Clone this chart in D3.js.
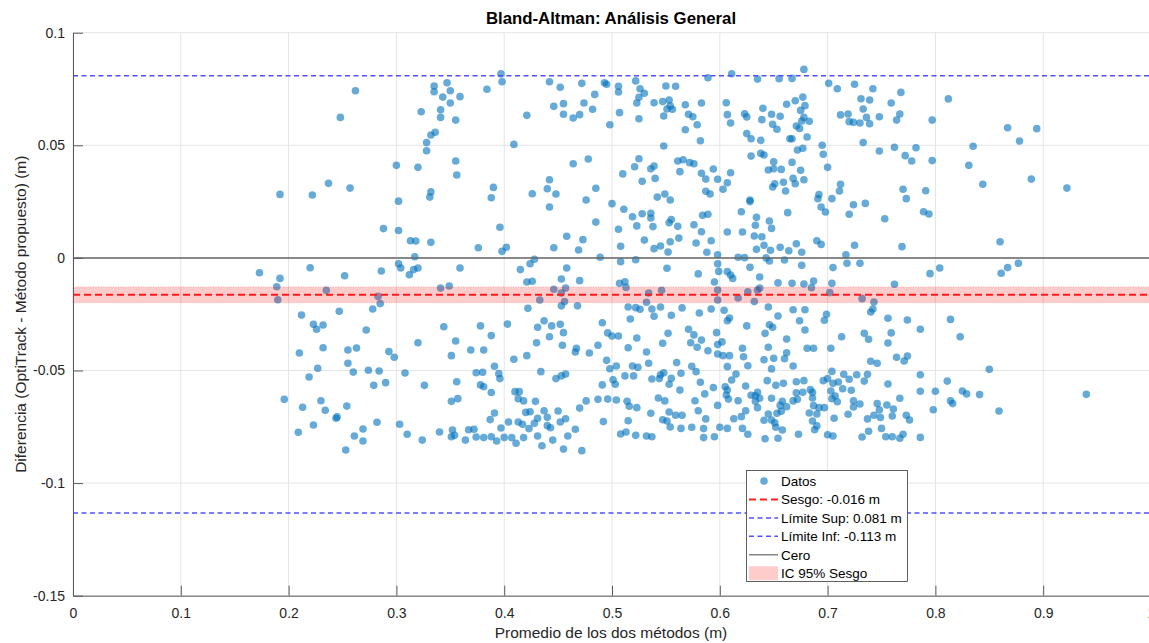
<!DOCTYPE html>
<html>
<head>
<meta charset="utf-8">
<script src="https://cdn.jsdelivr.net/npm/d3@7"></script>
<style>
  html, body { margin: 0; padding: 0; background: #fff; overflow: hidden; }
  svg { display: block; font-family: "Liberation Sans", Arial, Helvetica, sans-serif; }
</style>
</head>
<body>
<svg id="chart" width="1149" height="643"></svg>
<script>
// Ejes
const xTicks = [0, 0.1, 0.2, 0.3, 0.4, 0.5, 0.6, 0.7, 0.8, 0.9, 1];
const yTicks = [-0.15, -0.1, -0.05, 0, 0.05, 0.1];

// Estadísticos de Bland-Altman
const sesgo = -0.0164;
const limiteSup = 0.0809;
const limiteInf = -0.1133;
const icSesgo = [-0.0199, -0.0129];

// Mediciones: [promedio de ambos métodos, diferencia OptiTrack - propuesto] (m)
const datos = [
[0.262,0.0742],[0.248,0.0624],[0.335,0.0763],[0.347,0.0778],[0.335,0.0738],[0.350,0.0742],[0.343,0.0714],[0.359,0.0716],
[0.350,0.0688],[0.323,0.0649],[0.341,0.0658],[0.341,0.0624],[0.355,0.0612],[0.336,0.0558],[0.332,0.0546],[0.328,0.0512],
[0.328,0.0476],[0.355,0.0430],[0.356,0.0368],[0.300,0.0411],[0.320,0.0402],[0.237,0.0331],[0.257,0.0310],[0.192,0.0282],
[0.222,0.0279],[0.332,0.0293],[0.331,0.0270],[0.302,0.0252],
[0.288,0.0130],[0.302,0.0122],[0.313,0.0076],[0.318,0.0075],[0.332,0.0069],[0.376,0.0045],[0.317,0.0005],[0.173,-0.0066],
[0.220,-0.0044],[0.192,-0.0091],[0.189,-0.0128],[0.190,-0.0186],[0.235,-0.0144],[0.252,-0.0079],[0.286,-0.0058],[0.302,-0.0026],
[0.304,-0.0045],[0.312,-0.0075],[0.316,-0.0052],[0.320,-0.0045],[0.359,-0.0045],[0.283,-0.0171],[0.285,-0.0203],[0.278,-0.0227],
[0.341,-0.0134],[0.349,-0.0125],[0.247,-0.0237],[0.212,-0.0254],[0.223,-0.0295],[0.226,-0.0317],[0.232,-0.0298],[0.272,-0.0320],
[0.344,-0.0306],[0.378,-0.0302],
[0.210,-0.0422],[0.232,-0.0399],[0.255,-0.0409],[0.263,-0.0400],[0.255,-0.0468],[0.227,-0.0490],[0.219,-0.0529],[0.260,-0.0507],
[0.274,-0.0499],[0.284,-0.0502],[0.293,-0.0416],[0.298,-0.0441],[0.320,-0.0377],[0.355,-0.0369],[0.351,-0.0434],[0.369,-0.0409],
[0.308,-0.0511],[0.279,-0.0566],[0.290,-0.0554],[0.326,-0.0566],[0.356,-0.0550],[0.374,-0.0510],[0.378,-0.0564],[0.196,-0.0628],
[0.213,-0.0663],[0.230,-0.0634],[0.234,-0.0677],[0.254,-0.0658],[0.244,-0.0712],[0.245,-0.0706],[0.223,-0.0742],[0.209,-0.0774],
[0.269,-0.0760],[0.282,-0.0730],[0.261,-0.0791],[0.269,-0.0813],[0.253,-0.0853],[0.303,-0.0739],[0.310,-0.0783],[0.324,-0.0809],
[0.340,-0.0773],[0.352,-0.0764],[0.351,-0.0794],[0.354,-0.0788],[0.351,-0.0637],[0.357,-0.0625],[0.364,-0.0809],[0.367,-0.0763],
[0.372,-0.0761],[0.374,-0.0795],
[0.384,0.0749],[0.397,0.0817],[0.398,0.0782],[0.421,0.0633],[0.409,0.0504],[0.442,0.0782],[0.452,0.0758],[0.472,0.0775],
[0.493,0.0778],[0.495,0.0771],[0.506,0.0762],[0.506,0.0737],[0.522,0.0786],[0.526,0.0751],[0.530,0.0731],[0.525,0.0713],
[0.523,0.0688],[0.550,0.0763],[0.559,0.0762],[0.589,0.0800],[0.611,0.0818],[0.635,0.0794],[0.655,0.0796],[0.484,0.0726],
[0.474,0.0688],[0.482,0.0660],[0.455,0.0685],[0.446,0.0673],[0.455,0.0638],[0.464,0.0621],[0.470,0.0636],[0.498,0.0591],
[0.507,0.0645],[0.525,0.0618],[0.539,0.0689],[0.547,0.0694],[0.553,0.0701],[0.554,0.0675],[0.551,0.0661],[0.556,0.0660],
[0.548,0.0630],[0.568,0.0680],[0.583,0.0688],[0.571,0.0638],[0.575,0.0627],[0.579,0.0591],[0.568,0.0569],[0.582,0.0520],
[0.606,0.0689],[0.607,0.0636],[0.610,0.0599],[0.623,0.0640],[0.625,0.0626],[0.640,0.0664],[0.639,0.0614],[0.648,0.0638],
[0.649,0.0593],[0.653,0.0571],[0.656,0.0629],[0.662,0.0682],[0.625,0.0552],[0.629,0.0529],[0.638,0.0522],[0.665,0.0529],
[0.629,0.0452],[0.638,0.0464],[0.641,0.0457],[0.650,0.0427],[0.645,0.0390],[0.650,0.0396],[0.657,0.0393],[0.651,0.0329],
[0.649,0.0315],[0.659,0.0336],[0.661,0.0297],[0.628,0.0257],[0.548,0.0497],[0.525,0.0440],[0.521,0.0405],[0.536,0.0396],
[0.539,0.0408],[0.540,0.0353],[0.528,0.0340],[0.510,0.0373],[0.561,0.0430],[0.566,0.0436],[0.572,0.0423],[0.576,0.0418],
[0.563,0.0383],[0.583,0.0376],[0.594,0.0395],[0.587,0.0350],[0.598,0.0349],[0.610,0.0378],[0.607,0.0334],[0.603,0.0305],
[0.587,0.0296],[0.591,0.0284],[0.549,0.0284],[0.542,0.0270],[0.554,0.0257],[0.464,0.0418],[0.478,0.0439],[0.442,0.0347],
[0.440,0.0307],[0.448,0.0284],[0.426,0.0285],[0.485,0.0309],[0.390,0.0313],[0.388,0.0267],[0.476,0.0257],
[0.678,0.0837],[0.667,0.0797],[0.701,0.0775],[0.709,0.0751],[0.725,0.0771],[0.742,0.0751],[0.768,0.0735],[0.812,0.0706],
[0.670,0.0698],[0.677,0.0714],[0.679,0.0676],[0.675,0.0655],[0.731,0.0707],[0.739,0.0701],[0.759,0.0688],[0.733,0.0661],
[0.712,0.0635],[0.719,0.0639],[0.767,0.0639],[0.736,0.0624],[0.748,0.0627],[0.720,0.0605],[0.724,0.0602],[0.730,0.0599],
[0.739,0.0596],[0.764,0.0612],[0.797,0.0612],[0.678,0.0624],[0.676,0.0608],[0.683,0.0607],[0.671,0.0586],[0.674,0.0575],
[0.681,0.0537],[0.667,0.0529],[0.867,0.0578],[0.894,0.0574],[0.878,0.0519],[0.733,0.0512],[0.695,0.0500],[0.672,0.0479],
[0.677,0.0487],[0.696,0.0460],[0.748,0.0475],[0.762,0.0491],[0.782,0.0489],[0.772,0.0454],[0.778,0.0430],[0.797,0.0432],
[0.835,0.0496],[0.831,0.0411],[0.844,0.0327],[0.889,0.0350],[0.922,0.0310],[0.667,0.0424],[0.700,0.0402],[0.675,0.0389],
[0.668,0.0353],[0.678,0.0347],[0.670,0.0329],[0.712,0.0327],[0.711,0.0297],[0.692,0.0281],[0.691,0.0263],[0.704,0.0263],
[0.770,0.0305],[0.791,0.0298],[0.773,0.0263],
[0.442,0.0226],[0.500,0.0241],[0.511,0.0216],[0.519,0.0183],[0.528,0.0196],[0.536,0.0198],[0.536,0.0177],[0.555,0.0170],
[0.553,0.0156],[0.576,0.0147],[0.584,0.0189],[0.589,0.0194],[0.561,0.0140],[0.538,0.0139],[0.523,0.0142],[0.506,0.0127],
[0.485,0.0159],[0.396,0.0136],[0.458,0.0096],[0.473,0.0081],[0.446,0.0045],[0.469,0.0035],[0.402,0.0047],[0.398,0.0029],
[0.508,0.0052],[0.530,0.0079],[0.539,0.0041],[0.545,0.0053],[0.554,0.0072],[0.552,0.0026],[0.562,0.0088],[0.578,0.0066],
[0.583,0.0116],[0.592,0.0076],[0.588,0.0025],[0.598,0.0014],[0.607,0.0115],[0.620,0.0205],[0.621,0.0115],[0.628,0.0250],
[0.634,0.0180],[0.633,0.0145],[0.646,0.0164],[0.648,0.0131],[0.632,0.0097],[0.639,0.0094],[0.641,0.0056],[0.634,0.0038],
[0.647,0.0034],[0.656,0.0047],[0.663,0.0201],[0.664,0.0032],[0.617,0.0003],[0.623,0.0001],[0.643,0.0000],[0.646,-0.0014],
[0.660,-0.0009],[0.522,-0.0008],[0.508,-0.0017],[0.489,0.0003],[0.428,-0.0006],[0.424,-0.0026],[0.415,-0.0052],[0.458,-0.0045],
[0.598,-0.0026],[0.599,-0.0060],[0.607,-0.0061],[0.610,-0.0076],[0.612,-0.0091],[0.628,-0.0042],[0.637,-0.0085],[0.551,-0.0046],
[0.580,-0.0071],[0.421,-0.0107],[0.426,-0.0104],[0.453,-0.0094],[0.470,-0.0101],[0.507,-0.0113],[0.512,-0.0106],[0.513,-0.0131],
[0.595,-0.0107],[0.654,-0.0111],[0.446,-0.0139],[0.457,-0.0134],[0.453,-0.0156],[0.433,-0.0187],[0.456,-0.0194],[0.453,-0.0213],
[0.468,-0.0213],[0.422,-0.0224],[0.534,-0.0156],[0.546,-0.0144],[0.532,-0.0197],[0.598,-0.0143],[0.598,-0.0187],[0.617,-0.0178],
[0.626,-0.0151],[0.635,-0.0143],[0.637,-0.0134],[0.632,-0.0194],[0.515,-0.0218],[0.522,-0.0221],[0.526,-0.0228],[0.537,-0.0227],
[0.545,-0.0218],[0.565,-0.0222],[0.581,-0.0245],[0.592,-0.0227],[0.604,-0.0233],[0.645,-0.0218],[0.517,-0.0271],[0.539,-0.0259],
[0.555,-0.0255],[0.609,-0.0267],[0.607,-0.0279],[0.654,-0.0258],[0.491,-0.0288],[0.437,-0.0279],[0.403,-0.0294],[0.444,-0.0302],
[0.452,-0.0295],[0.431,-0.0308],[0.571,-0.0317],[0.625,-0.0302],[0.646,-0.0297],[0.649,-0.0308],
[0.694,0.0226],[0.698,0.0204],[0.724,0.0236],[0.735,0.0242],[0.720,0.0194],[0.753,0.0174],[0.789,0.0205],[0.794,0.0195],
[0.860,0.0072],[0.671,0.0063],[0.690,0.0076],[0.694,0.0060],[0.676,0.0025],[0.725,0.0056],[0.717,0.0014],[0.769,0.0050],
[0.676,-0.0033],[0.718,-0.0024],[0.730,-0.0024],[0.705,-0.0043],[0.804,-0.0045],[0.795,-0.0070],[0.877,-0.0024],[0.867,-0.0043],
[0.861,-0.0068],[0.667,-0.0113],[0.678,-0.0116],[0.687,-0.0103],[0.685,-0.0132],[0.704,-0.0113],[0.702,-0.0154],[0.762,-0.0117],
[0.732,-0.0181],[0.743,-0.0196],[0.742,-0.0227],[0.740,-0.0240],[0.668,-0.0230],[0.679,-0.0230],[0.699,-0.0250],[0.697,-0.0277],
[0.674,-0.0279],[0.756,-0.0268],[0.774,-0.0276],[0.814,-0.0273],[0.679,-0.0320],[0.786,-0.0317],
[0.388,-0.0345],[0.381,-0.0409],[0.430,-0.0377],[0.442,-0.0350],[0.455,-0.0332],[0.454,-0.0388],[0.467,-0.0401],[0.466,-0.0418],
[0.479,-0.0422],[0.487,-0.0388],[0.496,-0.0333],[0.500,-0.0347],[0.506,-0.0347],[0.523,-0.0356],[0.515,-0.0399],[0.532,-0.0418],
[0.547,-0.0379],[0.552,-0.0335],[0.576,-0.0342],[0.583,-0.0365],[0.573,-0.0377],[0.579,-0.0397],[0.589,-0.0412],[0.597,-0.0332],
[0.598,-0.0385],[0.602,-0.0373],[0.598,-0.0427],[0.603,-0.0434],[0.609,-0.0434],[0.621,-0.0401],[0.622,-0.0439],[0.626,-0.0479],
[0.642,-0.0335],[0.662,-0.0360],[0.645,-0.0397],[0.662,-0.0421],[0.641,-0.0452],[0.650,-0.0446],[0.660,-0.0448],[0.648,-0.0493],
[0.409,-0.0450],[0.421,-0.0434],[0.391,-0.0481],[0.380,-0.0508],[0.395,-0.0514],[0.396,-0.0536],[0.434,-0.0505],[0.448,-0.0536],
[0.453,-0.0524],[0.457,-0.0516],[0.495,-0.0455],[0.498,-0.0492],[0.504,-0.0480],[0.519,-0.0480],[0.524,-0.0486],[0.534,-0.0468],
[0.512,-0.0524],[0.520,-0.0524],[0.501,-0.0541],[0.503,-0.0561],[0.491,-0.0564],[0.537,-0.0538],[0.545,-0.0519],[0.548,-0.0510],
[0.544,-0.0536],[0.555,-0.0535],[0.553,-0.0561],[0.560,-0.0465],[0.564,-0.0512],[0.574,-0.0481],[0.578,-0.0505],[0.563,-0.0587],
[0.582,-0.0552],[0.586,-0.0604],[0.594,-0.0576],[0.607,-0.0483],[0.611,-0.0542],[0.615,-0.0516],[0.605,-0.0572],[0.607,-0.0587],
[0.606,-0.0609],[0.608,-0.0627],[0.624,-0.0569],[0.617,-0.0634],[0.629,-0.0610],[0.644,-0.0545],[0.652,-0.0566],[0.659,-0.0557],
[0.635,-0.0597],[0.633,-0.0612],[0.637,-0.0623],[0.633,-0.0637],[0.648,-0.0623],[0.658,-0.0637],[0.656,-0.0655],[0.662,-0.0661],
[0.410,-0.0594],[0.414,-0.0594],[0.381,-0.0572],[0.388,-0.0598],[0.413,-0.0625],[0.418,-0.0635],[0.429,-0.0637],[0.420,-0.0686],
[0.424,-0.0683],[0.437,-0.0679],[0.450,-0.0680],[0.391,-0.0689],[0.387,-0.0718],[0.397,-0.0755],[0.404,-0.0729],[0.413,-0.0729],
[0.417,-0.0739],[0.423,-0.0758],[0.428,-0.0734],[0.431,-0.0712],[0.440,-0.0708],[0.440,-0.0745],[0.443,-0.0754],[0.457,-0.0714],
[0.452,-0.0729],[0.466,-0.0761],[0.470,-0.0667],[0.476,-0.0635],[0.487,-0.0628],[0.496,-0.0627],[0.504,-0.0631],[0.514,-0.0637],
[0.516,-0.0659],[0.523,-0.0665],[0.543,-0.0622],[0.549,-0.0635],[0.536,-0.0690],[0.547,-0.0719],[0.551,-0.0724],[0.553,-0.0684],
[0.559,-0.0699],[0.565,-0.0699],[0.577,-0.0634],[0.580,-0.0679],[0.587,-0.0715],[0.598,-0.0655],[0.613,-0.0714],[0.620,-0.0705],
[0.624,-0.0679],[0.635,-0.0665],[0.641,-0.0721],[0.645,-0.0693],[0.648,-0.0720],[0.651,-0.0732],[0.653,-0.0690],[0.657,-0.0681],
[0.652,-0.0752],[0.658,-0.0764],[0.381,-0.0798],[0.388,-0.0794],[0.393,-0.0813],[0.400,-0.0797],[0.407,-0.0798],[0.411,-0.0823],
[0.418,-0.0798],[0.431,-0.0791],[0.435,-0.0834],[0.445,-0.0809],[0.455,-0.0849],[0.459,-0.0791],[0.472,-0.0856],[0.492,-0.0727],
[0.508,-0.0782],[0.513,-0.0773],[0.522,-0.0788],[0.515,-0.0723],[0.532,-0.0791],[0.537,-0.0794],[0.554,-0.0751],[0.564,-0.0757],
[0.574,-0.0752],[0.585,-0.0798],[0.585,-0.0758],[0.595,-0.0794],[0.600,-0.0752],[0.607,-0.0757],[0.621,-0.0757],[0.626,-0.0783],
[0.642,-0.0803],[0.654,-0.0801],
[0.713,-0.0350],[0.734,-0.0335],[0.738,-0.0361],[0.759,-0.0333],[0.756,-0.0378],[0.823,-0.0350],[0.681,-0.0401],[0.687,-0.0401],
[0.703,-0.0401],[0.668,-0.0480],[0.740,-0.0459],[0.746,-0.0468],[0.764,-0.0441],[0.774,-0.0436],[0.771,-0.0458],[0.850,-0.0495],
[0.704,-0.0504],[0.715,-0.0517],[0.727,-0.0519],[0.737,-0.0517],[0.786,-0.0519],[0.671,-0.0550],[0.678,-0.0545],[0.696,-0.0545],
[0.700,-0.0536],[0.705,-0.0557],[0.710,-0.0551],[0.720,-0.0539],[0.734,-0.0547],[0.756,-0.0560],[0.811,-0.0547],[0.671,-0.0599],
[0.677,-0.0597],[0.684,-0.0585],[0.686,-0.0597],[0.703,-0.0591],[0.714,-0.0581],[0.722,-0.0588],[0.707,-0.0613],[0.786,-0.0592],
[0.800,-0.0592],[0.825,-0.0591],[0.829,-0.0604],[0.841,-0.0607],[0.940,-0.0606],[0.668,-0.0635],[0.672,-0.0628],[0.686,-0.0622],
[0.704,-0.0625],[0.709,-0.0639],[0.724,-0.0634],[0.767,-0.0623],[0.814,-0.0634],[0.816,-0.0647],[0.687,-0.0656],[0.692,-0.0665],
[0.697,-0.0665],[0.724,-0.0662],[0.730,-0.0649],[0.746,-0.0647],[0.755,-0.0653],[0.748,-0.0675],[0.761,-0.0671],[0.798,-0.0674],
[0.859,-0.0680],[0.683,-0.0689],[0.690,-0.0693],[0.719,-0.0694],[0.706,-0.0712],[0.737,-0.0715],[0.743,-0.0699],[0.749,-0.0709],
[0.760,-0.0702],[0.773,-0.0699],[0.776,-0.0720],[0.686,-0.0724],[0.690,-0.0746],[0.688,-0.0763],[0.738,-0.0770],[0.750,-0.0757],
[0.673,-0.0783],[0.700,-0.0785],[0.705,-0.0791],[0.732,-0.0795],[0.754,-0.0794],[0.760,-0.0794],[0.767,-0.0801],[0.770,-0.0783],
[0.786,-0.0797]
];

const colorDatos = "#0072BD";
const colorSesgo = "#ff2020";
const colorLimite = "#5050ff";
const colorCero = "#666666";
const colorTexto = "#262626";

const svg = d3.select("#chart");
const area = { left: 73, top: 32.7, right: 1151, bottom: 595.7 };

const x = d3.scaleLinear().domain([0, 1]).range([area.left, area.right]);
const y = d3.scaleLinear().domain([-0.15, 0.1]).range([area.bottom, area.top]);

const fmt = d => String(+d.toFixed(2));

// Rejilla
const grid = svg.append("g").attr("stroke", "#e4e4e4").attr("stroke-width", 1);
grid.selectAll("line.v").data(xTicks).join("line")
  .attr("x1", d => x(d)).attr("x2", d => x(d))
  .attr("y1", area.top).attr("y2", area.bottom);
grid.selectAll("line.h").data(yTicks).join("line")
  .attr("x1", area.left).attr("x2", area.right)
  .attr("y1", d => y(d)).attr("y2", d => y(d));

// Puntos
svg.append("g").selectAll("circle").data(datos).join("circle")
  .attr("cx", d => x(d[0])).attr("cy", d => y(d[1]))
  .attr("r", 3.8)
  .attr("fill", colorDatos).attr("fill-opacity", 0.6);

// Líneas de referencia
const hline = (v, color, w, dash) => svg.append("line")
  .attr("x1", area.left).attr("x2", area.right)
  .attr("y1", y(v)).attr("y2", y(v))
  .attr("stroke", color).attr("stroke-width", w)
  .attr("stroke-dasharray", dash);

hline(0, colorCero, 1.5, null);
hline(limiteSup, colorLimite, 1.5, "5,3.5");
hline(limiteInf, colorLimite, 1.5, "5,3.5");
hline(sesgo, colorSesgo, 2, "7,4");

// Intervalo de confianza del sesgo
svg.append("rect")
  .attr("x", area.left).attr("width", area.right - area.left)
  .attr("y", y(icSesgo[1])).attr("height", y(icSesgo[0]) - y(icSesgo[1]))
  .attr("fill", "#ff0000").attr("fill-opacity", 0.2)
  .attr("stroke", "#ff0000").attr("stroke-opacity", 0.3)
  .attr("stroke-width", 0.8).attr("stroke-dasharray", "1,1.5");

// Ejes
const xAxis = d3.axisBottom(x).tickValues(xTicks).tickFormat(fmt)
  .tickSizeInner(-10).tickSizeOuter(0).tickPadding(12);
const yAxis = d3.axisLeft(y).tickValues(yTicks).tickFormat(fmt)
  .tickSizeInner(-10).tickSizeOuter(0).tickPadding(8);

const gx = svg.append("g").attr("transform", `translate(0,${area.bottom})`).call(xAxis);
const gy = svg.append("g").attr("transform", `translate(${area.left},0)`).call(yAxis);
[gx, gy].forEach(g => {
  g.select(".domain").attr("stroke", "#5a5a5a").attr("stroke-width", 1);
  g.selectAll(".tick line").attr("stroke", "#5a5a5a").attr("stroke-width", 1);
  g.selectAll(".tick text").attr("fill", colorTexto)
    .style("font-size", "14px")
    .style("font-family", '"Liberation Sans", Arial, Helvetica, sans-serif');
});

// Títulos
const cx = (area.left + area.right) / 2;
svg.append("text").attr("x", cx - 1).attr("y", 24)
  .attr("text-anchor", "middle").attr("font-weight", "bold")
  .attr("font-size", 16.8).attr("fill", "#000")
  .text("Bland-Altman: Análisis General");
svg.append("text").attr("x", cx - 1).attr("y", 638)
  .attr("text-anchor", "middle").attr("font-size", 15.5).attr("fill", colorTexto)
  .text("Promedio de los dos métodos (m)");
svg.append("text")
  .attr("transform", `translate(26,${(area.top + area.bottom) / 2}) rotate(-90)`)
  .attr("text-anchor", "middle").attr("font-size", 15.5).attr("fill", colorTexto)
  .text("Diferencia (OptiTrack - Método propuesto) (m)");

// Leyenda
const leyenda = svg.append("g");
leyenda.append("rect")
  .attr("x", 746.5).attr("y", 470.5).attr("width", 161).attr("height", 111)
  .attr("fill", "#fff").attr("stroke", "#3a3a3a").attr("stroke-width", 0.8);

const entradas = [
  { tipo: "punto", texto: "Datos" },
  { tipo: "linea", texto: `Sesgo: ${sesgo.toFixed(3)} m`, color: colorSesgo, w: 2, dash: "7,4" },
  { tipo: "linea", texto: `Límite Sup: ${limiteSup.toFixed(3)} m`, color: colorLimite, w: 1.5, dash: "5,3.5" },
  { tipo: "linea", texto: `Límite Inf: ${limiteInf.toFixed(3)} m`, color: colorLimite, w: 1.5, dash: "5,3.5" },
  { tipo: "linea", texto: "Cero", color: colorCero, w: 1.2, dash: null },
  { tipo: "area", texto: "IC 95% Sesgo" }
];
const filaY = i => 481 + i * 18.45;
entradas.forEach((e, i) => {
  const yy = filaY(i);
  if (e.tipo === "punto") {
    leyenda.append("circle").attr("cx", 764).attr("cy", yy).attr("r", 3.8)
      .attr("fill", colorDatos).attr("fill-opacity", 0.6);
  } else if (e.tipo === "linea") {
    leyenda.append("line").attr("x1", 749).attr("x2", 778).attr("y1", yy).attr("y2", yy)
      .attr("stroke", e.color).attr("stroke-width", e.w).attr("stroke-dasharray", e.dash);
  } else {
    leyenda.append("rect").attr("x", 749).attr("y", yy - 7).attr("width", 29).attr("height", 14)
      .attr("fill", "#ff0000").attr("fill-opacity", 0.2);
  }
  leyenda.append("text").attr("x", 781).attr("y", yy + 4.8)
    .attr("font-size", 13.5).attr("fill", "#000").text(e.texto);
});
</script>
</body>
</html>
